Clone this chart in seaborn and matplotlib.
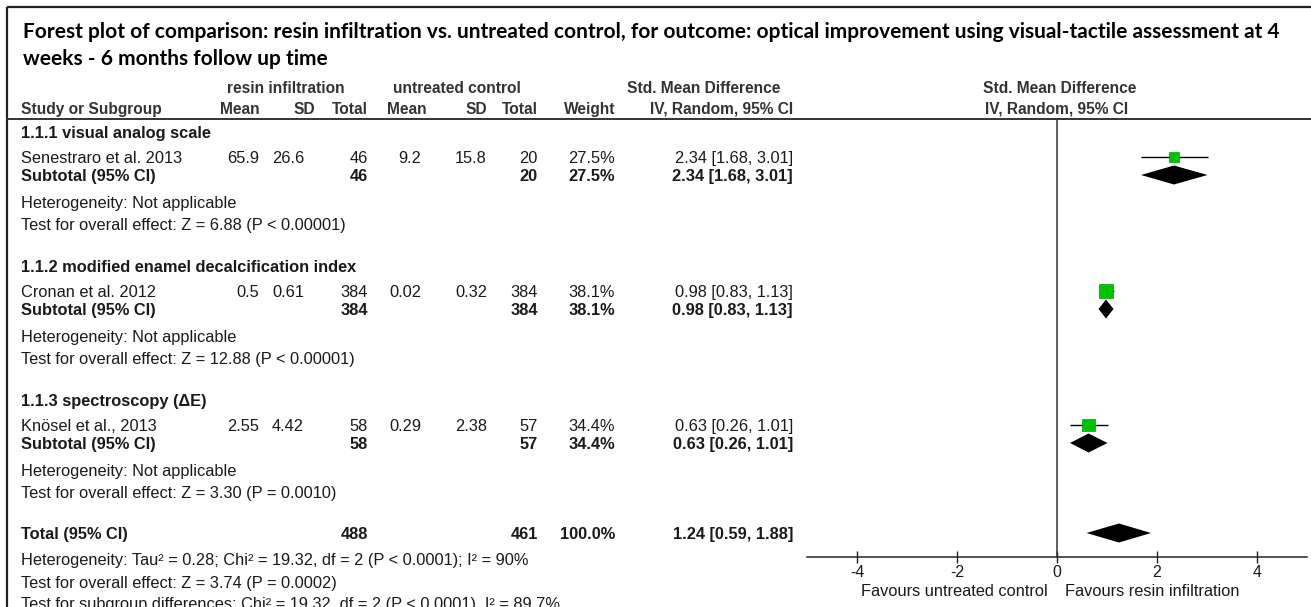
import numpy as np
import pandas as pd
import matplotlib
matplotlib.use("Agg")
import matplotlib.pyplot as plt
import seaborn as sns

# data
title_1 = "Forest plot of comparison: resin infiltration vs. untreated control, for outcome: optical improvement using visual-tactile assessment at 4"
title_2 = "weeks - 6 months follow up time"

subgroups = ["1.1.1 visual analog scale",
             "1.1.2 modified enamel decalcification index",
             "1.1.3 spectroscopy (\u0394E)"]
studies = ["Senestraro et al. 2013", "Cronan et al. 2012", "Kn\u00f6sel et al., 2013"]
resin_mean = ["65.9", "0.5", "2.55"]
resin_sd = ["26.6", "0.61", "4.42"]
resin_n = [46, 384, 58]
ctrl_mean = ["9.2", "0.02", "0.29"]
ctrl_sd = ["15.8", "0.32", "2.38"]
ctrl_n = [20, 384, 57]
weight = [27.5, 38.1, 34.4]
smd = [2.34, 0.98, 0.63]
ci_lo = [1.68, 0.83, 0.26]
ci_hi = [3.01, 1.13, 1.01]
sub_smd = [2.34, 0.98, 0.63]
sub_lo = [1.68, 0.83, 0.26]
sub_hi = [3.01, 1.13, 1.01]
overall_z = ["6.88 (P < 0.00001)", "12.88 (P < 0.00001)", "3.30 (P = 0.0010)"]
total_smd, total_lo, total_hi = 1.24, 0.59, 1.88
total_lines = ["Heterogeneity: Tau\u00b2 = 0.28; Chi\u00b2 = 19.32, df = 2 (P < 0.0001); I\u00b2 = 90%",
               "Test for overall effect: Z = 3.74 (P = 0.0002)",
               "Test for subgroup differences: Chi\u00b2 = 19.32, df = 2 (P < 0.0001), I\u00b2 = 89.7%"]
ticks = [-4, -2, 0, 2, 4]

df = pd.DataFrame({"study": studies, "smd": smd, "lo": ci_lo, "hi": ci_hi, "weight": weight})

sns.set_theme(style="white")
plt.rcParams['font.family'] = ['Liberation Sans', 'DejaVu Sans']

W, H = 1311, 607
fig = plt.figure(figsize=(W / 100, H / 100), dpi=100)
bg = fig.add_axes([0, 0, 1, 1])
bg.set_xlim(0, W)
bg.set_ylim(H, 0)
bg.axis('off')

ink = '#1a1a1a'
fs = 11.8
rule_y = 119

# frame + header rule
bg.plot([7, 7], [7, H], color='#222222', lw=1.6, solid_capstyle='butt')
bg.plot([7, W], [7, 7], color='#222222', lw=1.6, solid_capstyle='butt')
bg.plot([7, W], [rule_y, rule_y], color='#333333', lw=1.4)

# title (fit first line to its width in the reference)
t1 = bg.text(23, 38, title_1, fontsize=14, fontweight='bold', family=['Lato', 'DejaVu Sans'], color='black')
t2 = bg.text(23, 65, title_2, fontsize=14, fontweight='bold', family=['Lato', 'DejaVu Sans'], color='black')
fig.canvas.draw()
w = t1.get_window_extent().width
t1.set_fontsize(14 * 1265 / w)
t2.set_fontsize(14 * 1265 / w)

# column right edges (data) and header right edges
cx = dict(rmean=259, rsd=304, rn=368, cmean=421, csd=487, cn=538, wt=615, ci=793)
hx = dict(rmean=260, rsd=315, rn=368, cmean=427, csd=487, cn=538, wt=615, ci=793)


def put(x, y, s, ha='left', bold=False, size=fs):
    bg.text(x, y + 6, s, ha=ha, va='baseline', fontsize=size,
            fontweight='bold' if bold else 'normal', color=ink)


# headers
hb = '#333333'
for x, y, s, ha in [(286, 87, "resin infiltration", 'center'), (457, 87, "untreated control", 'center'),
                    (704, 87, "Std. Mean Difference", 'center'), (1060, 87, "Std. Mean Difference", 'center'),
                    (21, 108, "Study or Subgroup", 'left'), (hx['rmean'], 108, "Mean", 'right'),
                    (hx['rsd'], 108, "SD", 'right'), (hx['rn'], 108, "Total", 'right'),
                    (hx['cmean'], 108, "Mean", 'right'), (hx['csd'], 108, "SD", 'right'),
                    (hx['cn'], 108, "Total", 'right'), (hx['wt'], 108, "Weight", 'right'),
                    (hx['ci'], 108, "IV, Random, 95% CI", 'right'), (1057, 108, "IV, Random, 95% CI", 'center')]:
    bg.text(x, y + 6, s, ha=ha, va='baseline', fontsize=11.2, fontweight='bold', color=hb)

study_y, sub_y = [], []
for g in range(3):
    y0 = 132 + 134 * g
    study_y.append(y0 + 25)
    sub_y.append(y0 + 43)
    put(21, y0, subgroups[g], bold=True)
    ys = y0 + 25
    put(21, ys, studies[g])
    put(cx['rmean'], ys, resin_mean[g], 'right')
    put(cx['rsd'], ys, resin_sd[g], 'right')
    put(cx['rn'], ys, str(resin_n[g]), 'right')
    put(cx['cmean'], ys, ctrl_mean[g], 'right')
    put(cx['csd'], ys, ctrl_sd[g], 'right')
    put(cx['cn'], ys, str(ctrl_n[g]), 'right')
    put(cx['wt'], ys, f"{weight[g]:.1f}%", 'right')
    put(cx['ci'], ys, f"{smd[g]:.2f} [{ci_lo[g]:.2f}, {ci_hi[g]:.2f}]", 'right')
    yb = y0 + 43
    put(21, yb, "Subtotal (95% CI)", bold=True)
    put(cx['rn'], yb, str(resin_n[g]), 'right', bold=True)
    put(cx['cn'], yb, str(ctrl_n[g]), 'right', bold=True)
    put(cx['wt'], yb, f"{weight[g]:.1f}%", 'right', bold=True)
    put(cx['ci'], yb, f"{sub_smd[g]:.2f} [{sub_lo[g]:.2f}, {sub_hi[g]:.2f}]", 'right', bold=True)
    put(21, y0 + 70, "Heterogeneity: Not applicable")
    put(21, y0 + 92, "Test for overall effect: Z = " + overall_z[g])

ty = 533
put(21, ty, "Total (95% CI)", bold=True)
put(cx['rn'], ty, str(sum(resin_n)), 'right', bold=True)
put(cx['cn'], ty, str(sum(ctrl_n)), 'right', bold=True)
put(cx['wt'], ty, f"{sum(weight):.1f}%", 'right', bold=True)
put(cx['ci'], ty, f"{total_smd:.2f} [{total_lo:.2f}, {total_hi:.2f}]", 'right', bold=True)
for i, s in enumerate(total_lines):
    put(21, [559, 582, 603][i], s)

# forest panel: x in SMD units, y in the same pixel rows as the table
axis_y = 557
ax = fig.add_axes([807 / W, (H - axis_y) / H, 500 / W, (axis_y - rule_y) / H])
ax.patch.set_alpha(0)
ax.axvline(0, color='#333333', lw=1.1)
ax.hlines(study_y, df['lo'], df['hi'], color='black', lw=1)
sns.scatterplot(x=df['smd'], y=study_y, size=df['weight'], sizes=(42, 100), marker='s',
                color='#00c400', edgecolor='#00a000', linewidth=0.5, legend=False, ax=ax, zorder=3)
hh = 9.5
for est, lo, hi, yc in zip(sub_smd + [total_smd], sub_lo + [total_lo], sub_hi + [total_hi], sub_y + [ty]):
    ax.fill([lo, est, hi, est], [yc, yc - hh, yc, yc + hh], color='black', lw=0)
ax.set_xlim(-5, 5)
ax.set_ylim(axis_y, rule_y)
ax.set_xlabel('')
ax.set_ylabel('')
ax.set_yticks([])
ax.set_xticks(ticks)
ax.set_xticklabels([str(t) for t in ticks])
for s in ['top', 'left', 'right']:
    ax.spines[s].set_visible(False)
ax.spines['bottom'].set_color('#222222')
ax.spines['bottom'].set_linewidth(1.1)
ax.tick_params(axis='x', direction='inout', length=9, width=1, color='#222222',
               labelsize=11.5, labelcolor=ink, pad=1, bottom=True)

bg.text(1048, 596, "Favours untreated control", ha='right', va='baseline', fontsize=fs, color=ink)
bg.text(1065, 596, "Favours resin infiltration", ha='left', va='baseline', fontsize=fs, color=ink)

fig.savefig("out.png", dpi=100)
